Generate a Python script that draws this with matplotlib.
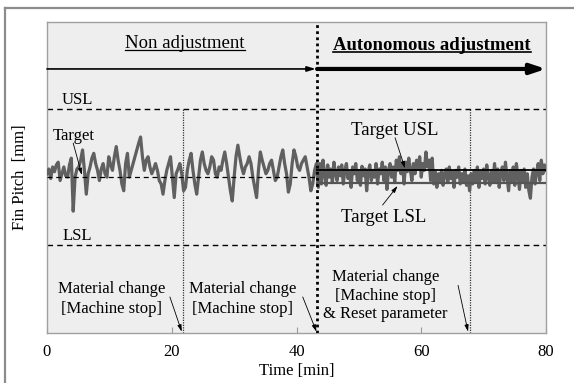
import numpy as np
import matplotlib
matplotlib.use("Agg")
import matplotlib.pyplot as plt
from matplotlib.lines import Line2D

plt.rcParams['font.family'] = ['Liberation Serif', 'DejaVu Serif']

# ---- data (target = 0, USL = +1, LSL = -1) ----
usl, lsl, target = 1.0, -1.0, 0.0
target_usl, target_lsl = 0.10, -0.09
t_switch = 43.3          # start of autonomous adjustment [min]
t_changes = [21.8, 67.8]  # material changes (thin dotted)

# non adjustment, sampled every 0.3 min from 0 to 43.2
pitch_non = [
    0.05, 0.12, -0.02, 0.15, 0.08, 0.18, 0.22, -0.05, 0.05, 0.15,
    0.02, 0.0, 0.18, 0.28, -0.5, 0.0, 0.12, 0.15, 0.25, 0.4,
    0.1, -0.25, 0.05, 0.15, 0.28, 0.35, 0.2, 0.1, -0.05, 0.12,
    0.2, 0.05, 0.0, 0.3, 0.18, 0.1, 0.3, 0.45, 0.25, 0.1,
    -0.1, -0.2, 0.2, 0.35, 0.0, 0.1, 0.2, 0.3, 0.4, 0.5,
    0.59, 0.3, 0.1, 0.25, 0.3, 0.15, 0.05, 0.12, 0.2, 0.1,
    -0.05, -0.1, -0.25, -0.05, 0.1, 0.2, 0.3, 0.0, -0.3, 0.05,
    0.12, 0.2, 0.05, -0.2, -0.15, 0.1, 0.25, 0.35, 0.1, -0.1,
    -0.25, 0.0, 0.25, 0.37, 0.2, 0.1, 0.05, 0.15, 0.3, 0.25,
    0.05, 0.0, 0.15, 0.1, 0.25, 0.37, 0.2, 0.0, -0.2, -0.35,
    0.0, 0.3, 0.47, 0.3, 0.15, 0.05, 0.15, 0.2, 0.3, 0.2,
    0.0, -0.15, -0.3, 0.1, 0.37, 0.25, 0.15, 0.05, 0.1, 0.2,
    0.25, 0.1, -0.05, 0.0, 0.15, 0.3, 0.4, 0.2, 0.05, -0.22,
    -0.1, 0.2, 0.4, 0.3, 0.15, 0.1, 0.2, 0.25, 0.3, 0.15,
    0.0, -0.2, -0.1, 0.1, 0.2,
]

# autonomous adjustment, sampled every 0.25 min from 43.5 to 80
pitch_auto = [
    -0.15, 0.2, -0.1, 0.25, 0.05, -0.12, 0.18, 0.0, 0.12, -0.08,
    0.22, 0.05, -0.05, 0.15, 0.02, 0.18, -0.1, 0.1, 0.2, -0.02,
    0.08, -0.15, 0.15, 0.05, 0.2, -0.05, 0.1, -0.12, 0.16, 0.02,
    0.12, -0.2, 0.08, 0.18, -0.05, 0.1, 0.0, 0.2, -0.1, 0.12,
    0.05, 0.22, -0.05, 0.15, -0.18, 0.1, 0.2, 0.0, 0.15, -0.08,
    0.25, 0.1, 0.3, 0.05, 0.2, -0.1, 0.22, 0.08, 0.28, 0.1,
    -0.05, 0.2, 0.05, 0.25, 0.12, 0.3, 0.0, 0.2, 0.1, 0.37,
    0.15, 0.25, -0.05, 0.28, -0.1, 0.08, -0.15, 0.05, -0.05, 0.1,
    -0.12, 0.05, 0.12, -0.08, 0.15, -0.02, 0.08, -0.15, 0.1, 0.0,
    0.15, -0.1, 0.05, -0.05, 0.12, -0.12, 0.02, -0.2, 0.05, -0.1,
    0.1, -0.05, 0.15, -0.15, 0.08, -0.02, 0.12, -0.1, 0.18, 0.0,
    -0.12, 0.1, -0.05, 0.2, -0.08, 0.12, -0.15, 0.05, 0.15, -0.05,
    0.22, 0.0, -0.2, 0.1, -0.05, 0.15, -0.12, 0.2, 0.02, -0.18,
    0.1, -0.05, 0.12, -0.15, 0.05, -0.2, -0.31, 0.0, 0.12, -0.1,
    0.08, 0.2, -0.05, 0.25, 0.05, 0.18, 0.1,
]

t_non = np.linspace(0, 43.2, len(pitch_non))
t_auto = np.linspace(43.5, 80, len(pitch_auto))
t_all = np.concatenate([t_non, t_auto])
pitch_all = np.concatenate([pitch_non, pitch_auto])

# ---- figure ----
W, H = 574, 383
fig = plt.figure(figsize=(W / 100, H / 100), dpi=100)
ax = fig.add_axes([47 / W, 50 / H, 499 / W, 311 / H])
ax.set_facecolor('#eeeeee')

ax.set_xlim(0, 80)
ax.set_ylim(-2.29, 2.28)

ax.plot(t_all, pitch_all, color='#606060', lw=2.3, zorder=3)

ax.axhline(usl, color='black', ls=(0, (4, 3)), lw=1.0)
ax.axhline(lsl, color='black', ls=(0, (4, 3)), lw=1.0)
ax.plot([0, t_switch], [target, target], color='black', ls=(0, (4, 3)), lw=0.9, zorder=4)
ax.plot([t_switch, 80], [target_usl, target_usl], color='black', lw=1.3, zorder=4)
ax.plot([t_switch, 80], [target_lsl, target_lsl], color='#555555', lw=1.6, zorder=4)

ax.axvline(t_switch, color='black', ls=(0, (1, 1.2)), lw=2.0, zorder=5)
for tc in t_changes:
    ax.plot([tc, tc], [-2.29, usl], color='#333333', ls=(0, (1, 1)), lw=0.9, zorder=2)

# header arrows
ax.annotate('', xy=(t_switch - 0.2, 1.59), xytext=(0, 1.59),
            arrowprops=dict(arrowstyle='-|>,head_length=0.5,head_width=0.15',
                            color='black', lw=1.2, shrinkA=0, shrinkB=0))
ax.annotate('', xy=(80, 1.59), xytext=(t_switch, 1.59),
            arrowprops=dict(arrowstyle='-|>,head_length=0.9,head_width=0.3',
                            color='black', lw=3.0, shrinkA=0, shrinkB=0))

t1 = ax.text(22.1, 1.97, 'Non adjustment', ha='center', va='center', fontsize=13.5)
t2 = ax.text(61.7, 1.94, 'Autonomous adjustment', ha='center', va='center',
             fontsize=13.5, fontweight='bold')

ax.text(2.4, 1.13, 'USL', ha='left', va='center', fontsize=12)
ax.text(2.5, -0.87, 'LSL', ha='left', va='center', fontsize=12)
ax.text(1.0, 0.61, 'Target', ha='left', va='center', fontsize=12)

arrow_thin = dict(arrowstyle='-|>,head_length=0.4,head_width=0.12',
                  color='black', lw=0.6, shrinkA=0, shrinkB=0)
ax.annotate('', xy=(5.6, 0.03), xytext=(4.2, 0.50), arrowprops=arrow_thin)

ax.text(55.8, 0.69, 'Target USL', ha='center', va='center', fontsize=13.5)
ax.annotate('', xy=(57.4, 0.13), xytext=(55.8, 0.58), arrowprops=arrow_thin)
ax.text(53.9, -0.59, 'Target LSL', ha='center', va='center', fontsize=13.5)
ax.annotate('', xy=(56.2, -0.13), xytext=(53.8, -0.41), arrowprops=arrow_thin)

ax.text(10.3, -1.79, 'Material change\n[Machine stop]', ha='center', va='center',
        fontsize=12, linespacing=1.3)
ax.annotate('', xy=(21.6, -2.27), xytext=(19.7, -1.76), arrowprops=arrow_thin)
ax.text(31.3, -1.79, 'Material change\n[Machine stop]', ha='center', va='center',
        fontsize=12, linespacing=1.3)
ax.annotate('', xy=(43.2, -2.27), xytext=(41.0, -1.76), arrowprops=arrow_thin)
ax.text(54.3, -1.74, 'Material change\n[Machine stop]\n& Reset parameter',
        ha='center', va='center', fontsize=12, linespacing=1.2)
ax.annotate('', xy=(67.5, -2.27), xytext=(65.9, -1.59), arrowprops=arrow_thin)

ax.set_xticks([0, 20, 40, 60, 80])
ax.set_yticks([])
ax.tick_params(axis='x', direction='in', length=4, color='#999999',
               labelsize=12, pad=8)
ax.set_xlabel('Time [min]', fontsize=12, labelpad=2)
ax.set_ylabel('Fin Pitch  [mm]', fontsize=12, labelpad=14)
for s in ax.spines.values():
    s.set_color('#a0a0a0')
    s.set_linewidth(1.0)

# underline the two header titles
fig.canvas.draw()
r = fig.canvas.get_renderer()
for txt, lw in [(t1, 0.9), (t2, 1.2)]:
    bb = txt.get_window_extent(r)
    y = bb.y0 + 2
    fig.add_artist(Line2D([bb.x0 / W, bb.x1 / W], [y / H, y / H],
                          color='black', lw=lw))

# outer frame
fig.add_artist(Line2D([5 / W, 5 / W], [0, 1 - 8 / H], color='#8c8c8c', lw=1.6))
fig.add_artist(Line2D([5 / W, 1], [1 - 8 / H, 1 - 8 / H], color='#8c8c8c', lw=1.6))

fig.savefig('out.png', dpi=100)
